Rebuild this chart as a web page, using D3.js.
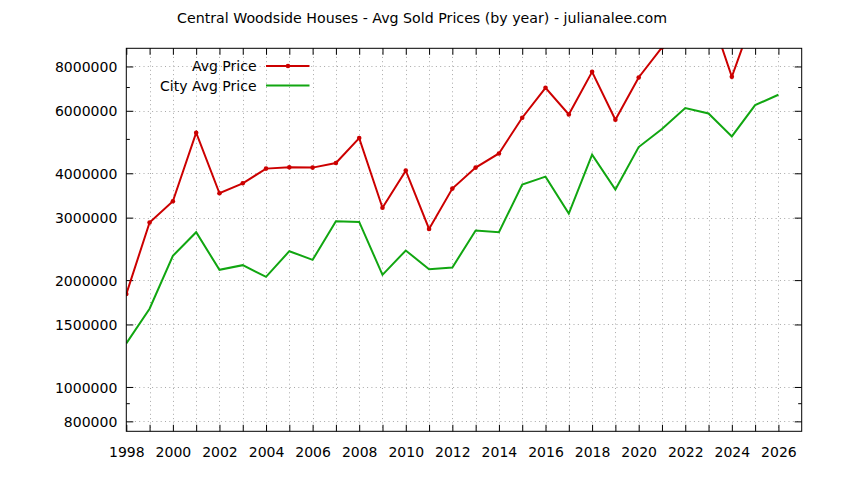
<!DOCTYPE html>
<html><head><meta charset="utf-8">
<script src="https://cdn.jsdelivr.net/npm/d3@7"></script>
<style>
body{margin:0;background:#fff;}
text{font-family:"DejaVu Sans",sans-serif;}
</style></head>
<body><svg id="c" width="844" height="480"></svg>
<script>
const years = [1998,1999,2000,2001,2002,2003,2004,2005,2006,2007,2008,2009,2010,2011,2012,2013,2014,2015,2016,2017,2018,2019,2020,2021,2022,2023,2024,2025,2026];
const avgPrice = [1827000,2906000,3337000,5205000,3514000,3748000,4123000,4157000,4150000,4275000,5027000,3199000,4070000,2788000,3622000,4150000,4550000,5736000,6967000,5860000,7727000,5662000,7447000,9050000,10500000,11700000,7480000,11400000,null];
const cityAvgPrice = [1327000,1661000,2341000,2729000,2138000,2204000,2043000,2413000,2281000,2931000,2917000,2070000,2424000,2147000,2171000,2760000,2729000,3717000,3914000,3081000,4513000,3599000,4742000,5329000,6106000,5898000,5082000,6225000,6657000];
const yTickLabels = [800000,1000000,1500000,2000000,3000000,4000000,6000000,8000000];
const yMinorTicks = [900000,5000000,7000000];
const xTickLabels = [1998,2000,2002,2004,2006,2008,2010,2012,2014,2016,2018,2020,2022,2024,2026];
const title = "Central Woodside Houses - Avg Sold Prices (by year) - julianalee.com";
const seriesNames = ["Avg Price","City Avg Price"];

const L=126.3, R=801.7, T=48.3, B=431.3;
const svg = d3.select("#c");
const x = d3.scaleLinear().domain([1998,2027]).range([L,R]);
const y = d3.scaleLog().domain([750000,9000000]).range([B,T]);
const RED="#cc0000", GREEN="#11a611";
const FS="14px";

// grid
const grid = svg.append("g").attr("stroke","#a8a8a8").attr("stroke-width",1).attr("stroke-dasharray","1,3.3");
d3.range(1999,2027).forEach(yr=>{
  grid.append("line").attr("x1",Math.round(x(yr))+0.5).attr("x2",Math.round(x(yr))+0.5).attr("y1",T).attr("y2",B);
});
yTickLabels.forEach(v=>{
  grid.append("line").attr("y1",Math.round(y(v))+0.5).attr("y2",Math.round(y(v))+0.5).attr("x1",L).attr("x2",R);
});

// axes with d3 axis generators (inward ticks)
const fmt = d=>String(d);
svg.append("g").attr("transform",`translate(0,${B})`)
  .call(d3.axisBottom(x).tickValues(d3.range(1998,2027)).tickSize(-6.5).tickFormat(d=>xTickLabels.includes(d)?fmt(d):""))
  .call(g=>{g.select(".domain").remove();g.selectAll("text").attr("dy","0").attr("y",26).attr("font-size",FS).attr("fill","#000");g.selectAll("line").attr("stroke","#000");});
svg.append("g").attr("transform",`translate(0,${T})`)
  .call(d3.axisTop(x).tickValues(d3.range(1998,2027)).tickSize(-6.5).tickFormat(""))
  .call(g=>{g.select(".domain").remove();g.selectAll("line").attr("stroke","#000");});
svg.append("g").attr("transform",`translate(${L},0)`)
  .call(d3.axisLeft(y).tickValues(yTickLabels).tickSize(-7).tickFormat(fmt))
  .call(g=>{g.select(".domain").remove();g.selectAll("text").attr("x",-9).attr("dy","0.36em").attr("font-size",FS).attr("fill","#000");g.selectAll("line").attr("stroke","#000");});
svg.append("g").attr("transform",`translate(${L},0)`)
  .call(d3.axisLeft(y).tickValues(yMinorTicks).tickSize(-3.5).tickFormat(""))
  .call(g=>{g.select(".domain").remove();g.selectAll("line").attr("stroke","#000");});
svg.append("g").attr("transform",`translate(${R},0)`)
  .call(d3.axisRight(y).tickValues(yTickLabels).tickSize(-7).tickFormat(""))
  .call(g=>{g.select(".domain").remove();g.selectAll("line").attr("stroke","#000");});
svg.append("g").attr("transform",`translate(${R},0)`)
  .call(d3.axisRight(y).tickValues(yMinorTicks).tickSize(-3.5).tickFormat(""))
  .call(g=>{g.select(".domain").remove();g.selectAll("line").attr("stroke","#000");});

// clip
svg.append("clipPath").attr("id","clip").append("rect").attr("x",L).attr("y",T).attr("width",R-L).attr("height",B-T);

const line = d3.line().defined(d=>d[1]!=null).x(d=>x(d[0])).y(d=>y(d[1]));
const plot = svg.append("g").attr("clip-path","url(#clip)");
plot.append("path").datum(years.map((yr,i)=>[yr,cityAvgPrice[i]])).attr("d",line)
  .attr("fill","none").attr("stroke",GREEN).attr("stroke-width",2);
plot.append("path").datum(years.map((yr,i)=>[yr,avgPrice[i]])).attr("d",line)
  .attr("fill","none").attr("stroke",RED).attr("stroke-width",2);
plot.selectAll(".pt").data(years.map((yr,i)=>[yr,avgPrice[i]]).filter(d=>d[1]!=null)).enter()
  .append("circle").attr("cx",d=>x(d[0])).attr("cy",d=>y(d[1])).attr("r",2.3).attr("fill",RED);

// frame
svg.append("rect").attr("x",L).attr("y",T).attr("width",R-L).attr("height",B-T)
  .attr("fill","none").attr("stroke","#000").attr("stroke-width",1);

// title
svg.append("text").attr("x",422).attr("y",23).attr("text-anchor","middle").attr("font-size","14.2px").text(title);

// legend
const leg = svg.append("g");
[[RED,true],[GREEN,false]].forEach((s,i)=>{
  const yy = 66 + i*19.5;
  leg.append("text").attr("x",256.5).attr("y",yy).attr("dy","0.36em").attr("text-anchor","end").attr("font-size",FS).text(seriesNames[i]);
  leg.append("line").attr("x1",266).attr("x2",309.5).attr("y1",yy).attr("y2",yy).attr("stroke",s[0]).attr("stroke-width",2);
  if(s[1]) leg.append("circle").attr("cx",288).attr("cy",yy).attr("r",2.3).attr("fill",s[0]);
});
</script></body></html>
